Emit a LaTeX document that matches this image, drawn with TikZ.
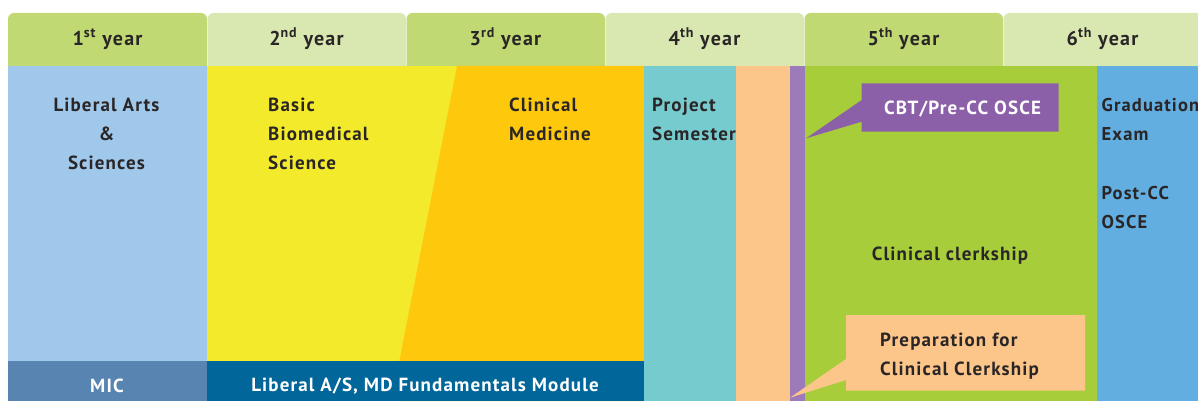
\documentclass[tikz,border=0pt]{standalone}
\usepackage{fontspec}
\setmainfont{PT Sans}[LetterSpace=6]
\definecolor{tabdark}{HTML}{C1D972}
\definecolor{tablight}{HTML}{D9E8B0}
\definecolor{laBlue}{HTML}{A0C8EB}
\definecolor{bbsYellow}{HTML}{F4EA2C}
\definecolor{cmOrange}{HTML}{FEC90C}
\definecolor{projTeal}{HTML}{76CBCF}
\definecolor{prepPeach}{HTML}{FCC68A}
\definecolor{osceStrip}{HTML}{9D7BBA}
\definecolor{oscePurple}{HTML}{8C60A8}
\definecolor{ccGreen}{HTML}{A7CE3A}
\definecolor{gradBlue}{HTML}{62AEE0}
\definecolor{micBlue}{HTML}{5784B1}
\definecolor{mdBlue}{HTML}{016699}
\definecolor{txt}{HTML}{2A2627}
\begin{document}
\begin{tikzpicture}[x=1pt,y=-1pt,
  lbl/.style={font=\bfseries\fontsize{19}{29}\selectfont, text=txt, inner sep=0pt},
  yeartxt/.style={lbl, font=\bfseries\fontsize{20}{24}\selectfont, anchor=base},
  linetxt/.style={lbl, anchor=base west},
  narrowtxt/.style={linetxt, font=\bfseries\fontsize{18.5}{29}\selectfont},
  midtxt/.style={lbl, anchor=base},
  whitetxt/.style={lbl, text=white, anchor=base},
  tabshape/.style={rounded corners=6pt}]
\useasboundingbox (0,0) rectangle (1198,403);
\clip (0,0) rectangle (1198,403);
% tabs
\fill[tabdark,tabshape] (8,13) rectangle (207,75);
\fill[tablight,tabshape] (207.5,13) rectangle (406,75);
\fill[tabdark,tabshape] (406.5,13) rectangle (605,75);
\fill[tablight,tabshape] (605.5,13) rectangle (804,75);
\fill[tabdark,tabshape] (804.5,13) rectangle (1003,75);
\fill[tablight,tabshape] (1003.5,13) rectangle (1215,75);
% body columns
\fill[laBlue] (8,66) rectangle (207,401);
\fill[bbsYellow] (207,66) rectangle (457,401);
\fill[cmOrange] (457,66) -- (644,66) -- (644,401) -- (399.3,401) -- (399.3,361) -- cycle;
\fill[projTeal] (644,66) rectangle (736,401);
\fill[prepPeach] (736,66) rectangle (790,401);
\fill[osceStrip] (790,66) rectangle (805,401);
\fill[ccGreen] (805,66) rectangle (1097,401);
\fill[gradBlue] (1097,66) rectangle (1198,401);
% bottom bars
\fill[micBlue] (8,361) rectangle (207,401);
\fill[mdBlue] (207,361) rectangle (644,401);
% callouts
\fill[oscePurple] (861.7,83.3) -- (1058.7,83.3) -- (1058.7,131.7) -- (861.7,131.7) -- (861.7,121.7) -- (806,138.3) -- (861.7,100) -- cycle;
\fill[prepPeach] (846,315) -- (1085,315) -- (1085,390.7) -- (846,390.7) -- (846,380) -- (790,397.7) -- (846,359) -- cycle;
% year labels
\node[yeartxt] (y1) at (107.5,45.5) {1\textsuperscript{st} year};
\node[yeartxt] (y2) at (306.5,45.5) {2\textsuperscript{nd} year};
\node[yeartxt] (y3) at (505.5,45.5) {3\textsuperscript{rd} year};
\node[yeartxt] (y4) at (704.5,45.5) {4\textsuperscript{th} year};
\node[yeartxt] (y5) at (903.5,45.5) {5\textsuperscript{th} year};
\node[yeartxt] (y6) at (1102.5,45.5) {6\textsuperscript{th} year};
% body texts
\node[midtxt] (la1) at (106.5,112) {Liberal Arts};
\node[midtxt] (la2) at (106.5,141) {\&};
\node[midtxt] (la3) at (106.5,170) {Sciences};
\node[linetxt] (bbs1) at (268,112) {Basic};
\node[linetxt] (bbs2) at (268,141) {Biomedical};
\node[linetxt] (bbs3) at (268,170) {Science};
\node[linetxt] (cm1) at (509,112) {Clinical};
\node[linetxt] (cm2) at (509,141) {Medicine};
\node[linetxt] (ps1) at (652,112) {Project};
\node[linetxt] (ps2) at (652,141) {Semester};
\node[narrowtxt] (ge1) at (1101.5,112) {Graduation};
\node[narrowtxt] (ge2) at (1101.5,141) {Exam};
\node[narrowtxt] (pc1) at (1101.5,200) {Post-CC};
\node[narrowtxt] (pc2) at (1101.5,229) {OSCE};
\node[midtxt] (cc) at (950,260) {Clinical clerkship};
\node[whitetxt] (cbt) at (962.5,114.5) {CBT/Pre-CC OSCE};
\node[linetxt] (prep1) at (880,346) {Preparation for};
\node[linetxt] (prep2) at (880,375) {Clinical Clerkship};
\node[whitetxt] (mic) at (107,392.5) {MIC};
\node[whitetxt] (md) at (425,391.5) {Liberal A/S, MD Fundamentals Module};
\end{tikzpicture}
\end{document}
